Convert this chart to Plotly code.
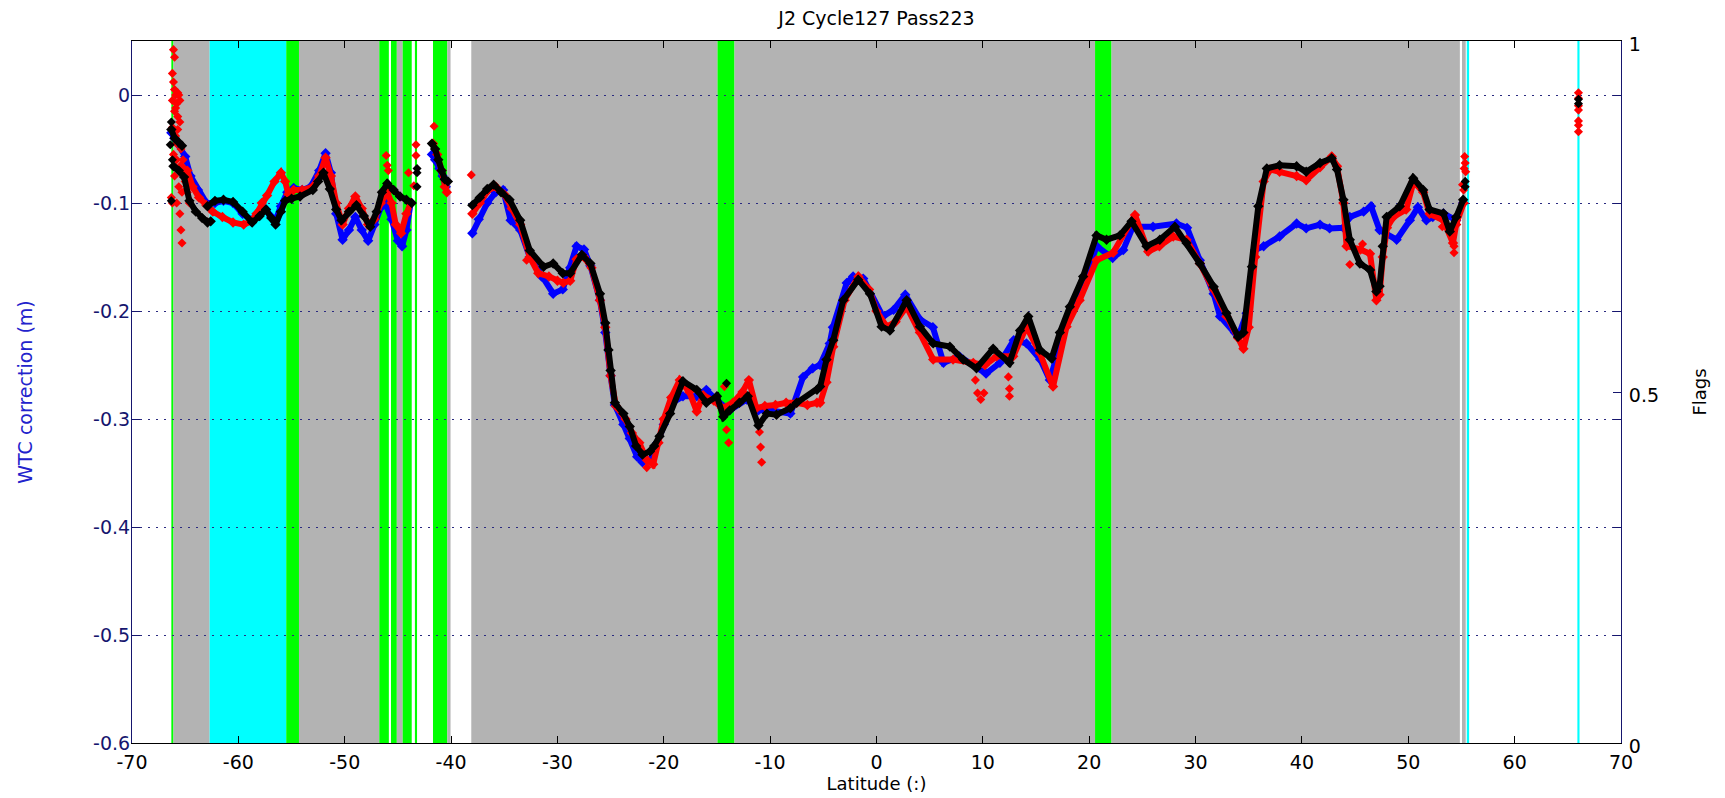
import plotly.graph_objects as go

# ---------------- data ----------------
chart_title = "J2 Cycle127 Pass223"
x_title = "Latitude (:)"
y_title = "WTC correction (m)"
flag_title = "Flags"

x_ticks = [-70, -60, -50, -40, -30, -20, -10, 0, 10, 20, 30, 40, 50, 60, 70]
x_ticklabels = ["-70", "-60", "-50", "-40", "-30", "-20", "-10", "0", "10", "20", "30", "40", "50", "60", "70"]
y_ticks = [-0.6, -0.5, -0.4, -0.3, -0.2, -0.1, 0]
y_ticklabels = ["-0.6", "-0.5", "-0.4", "-0.3", "-0.2", "-0.1", "0"]
flag_ticks = [0, 0.5, 1]
flag_ticklabels = ["0", "0.5", "1"]

# flag bands (latitude start / end, kind, flag value)
flag_start = [-66.3, -66.1, -62.7, -55.5, -54.3, -46.75, -45.65, -45.1, -44.55, -43.4, -41.7, -40.35,
              -38.1, -14.95, -13.35, 20.55, 22.1, 55.05, 55.5, 65.9]
flag_end = [-66.1, -62.7, -55.5, -54.3, -46.75, -45.85, -45.1, -44.55, -43.7, -43.2, -40.35, -40.05,
            -14.95, -13.35, 20.55, 22.1, 54.85, 55.4, 55.72, 66.1]
flag_kind = ["green", "gray", "cyan", "green", "gray", "green", "green", "gray", "green", "green", "green", "gray",
             "gray", "green", "gray", "green", "gray", "gray", "cyan", "cyan"]
flag_value = [1] * 20

# blue series
blue_lat = [-66.3, -66.0, -65.5, -65.0, -64.5, -63.8, -63.0, -62.2, -61.4, -60.5, -59.6, -58.7, -58.0, -57.4,
            -56.9, -56.5, -56.0, -55.4, -54.8, -54.0, -53.2, -52.4, -51.8, -51.3, -50.8, -50.2, -49.6, -49.0,
            -48.4, -47.8, -47.2, -46.6, -46.2, -45.6, -45.0, -44.6, -44.2, -43.8, None,
            -41.8, -41.5, -41.1, -40.8, -40.5, None,
            -38.0, -37.4, -36.6, -35.8, -35.1, -34.4, -33.5, -32.6, -31.5, -30.4, -29.5, -28.8, -28.2, -27.5,
            -26.9, -26.0, -25.5, -25.0, -24.6, -23.8, -23.2, -22.5, -22.0, -21.2, -20.6, -20.0, -19.2, -18.2,
            -16.9, -16.0, -15.0, -13.8, -12.2, -11.1, -10.0, -8.1, -6.9, -6.0, -5.3, -4.4, -4.1, -2.8, -2.2,
            -1.25, 0.6, 1.6, 2.7, 4.1, 5.3, 6.3, 7.8, 10.3, 11.6, 12.9, 14.1, 15.4, 16.3, 17.2, 18.5, 19.8,
            20.7, 22.2, 23.2, 24.1, 26.0, 28.2, 29.2, 30.4, 31.7, 32.3, 33.7, 34.0, 34.8, 35.6, 36.4, 37.9,
            39.5, 40.4, 41.7, 42.6, 43.9, 44.5, 45.8, 46.5, 47.3, 48.9, 50.15, 50.9, 51.7, 52.3, 53.3, 54.5,
            55.16]
blue_wtc = [-0.035, -0.04, -0.046, -0.057, -0.075, -0.088, -0.1, -0.1, -0.098, -0.1, -0.11, -0.116, -0.11, -0.106,
            -0.113, -0.116, -0.103, -0.09, -0.086, -0.088, -0.085, -0.07, -0.054, -0.072, -0.11, -0.134, -0.125,
            -0.113, -0.125, -0.135, -0.12, -0.104, -0.1, -0.115, -0.135, -0.14, -0.125, -0.1, None,
            -0.055, -0.06, -0.068, -0.075, -0.085, None,
            -0.128, -0.115, -0.1, -0.09, -0.088, -0.116, -0.125, -0.15, -0.168, -0.184, -0.18, -0.16, -0.14,
            -0.143, -0.158, -0.19, -0.22, -0.26, -0.287, -0.305, -0.318, -0.335, -0.34, -0.337, -0.322, -0.305,
            -0.285, -0.279, -0.279, -0.273, -0.283, -0.292, -0.282, -0.292, -0.292, -0.295, -0.261, -0.253,
            -0.25, -0.23, -0.215, -0.174, -0.168, -0.17, -0.205, -0.199, -0.185, -0.208, -0.215, -0.248, -0.242,
            -0.258, -0.248, -0.227, -0.23, -0.245, -0.264, -0.233, -0.193, -0.165, -0.14, -0.151, -0.1435,
            -0.122, -0.122, -0.119, -0.123, -0.153, -0.184, -0.205, -0.22, -0.224, -0.202, -0.1435, -0.14,
            -0.131, -0.119, -0.1235, -0.12, -0.1235, -0.123, -0.113, -0.108, -0.103, -0.125, -0.134, -0.116,
            -0.104, -0.116, -0.113, -0.1096, -0.116, -0.1]

# red series
red_lat = [-64.8, -64.3, -63.7, -63.0, -62.4, -61.5, -60.5, -59.5, -58.8, -58.3, -57.8, -57.3, -56.6, -56.0,
           -55.6, -55.3, -54.8, -54.0, -53.0, -52.4, -51.8, -51.3, -50.8, -50.2, -49.6, -49.0, -48.4, -47.8,
           -47.2, -46.6, -46.0, -45.6, -45.2, -44.7, -44.2, -43.8, None,
           -41.7, -41.3, -40.9, -40.6, -40.4, None,
           -38.0, -37.3, -36.5, -35.8, -35.0, -34.3, -33.5, -32.6, -31.8, -30.8, -30.0, -29.45, -28.8, -28.2,
           -27.5, -26.8, -26.0, -25.5, -25.0, -24.5, -23.6, -23.0, -22.3, -21.6, -21.0, -20.5, -20.0, -19.3,
           -18.5, -17.6, -16.9, -16.3, -15.3, -14.5, -13.5, -12.6, -12.0, -11.3, -10.5, -9.5, -8.5, -7.5,
           -6.5, -5.6, -5.3, -4.7, -4.07, -3.0, -1.7, -0.7, 0.0, 0.95, 1.8, 2.83, 4.08, 5.33, 7.2, 9.1, 10.2,
           11.3, 12.85, 14.1, 15.36, 16.6, 17.87, 19.1, 20.69, 22.25, 24.3, 25.55, 26.6, 27.9, 29.15, 30.4,
           31.7, 32.9, 34.0, 34.5, 35.0, 35.6, 36.4, 37.0, 37.9, 39.5, 40.4, 41.7, 42.8, 43.3, 43.9, 44.2,
           45.5, 46.4, 47.0, 47.3, 47.6, 48.0, 48.6, 49.8, 50.5, 51.4, 52.0, 53.3, 54.2, 54.5, 55.2]
red_wtc = [-0.07, -0.085, -0.095, -0.102, -0.108, -0.113, -0.118, -0.12, -0.117, -0.11, -0.1, -0.093, -0.08,
           -0.072, -0.08, -0.092, -0.088, -0.088, -0.085, -0.075, -0.058, -0.075, -0.1, -0.12, -0.105, -0.094,
           -0.105, -0.12, -0.115, -0.1, -0.09, -0.1, -0.12, -0.128, -0.11, -0.1, None,
           -0.045, -0.055, -0.07, -0.085, -0.09, None,
           -0.11, -0.1, -0.088, -0.085, -0.092, -0.105, -0.12, -0.15, -0.165, -0.168, -0.172, -0.174, -0.172,
           -0.152, -0.15, -0.16, -0.19, -0.215, -0.26, -0.288, -0.3, -0.313, -0.322, -0.338, -0.342, -0.322,
           -0.3, -0.28, -0.264, -0.275, -0.293, -0.278, -0.283, -0.29, -0.285, -0.275, -0.264, -0.29, -0.288,
           -0.287, -0.285, -0.285, -0.287, -0.285, -0.285, -0.266, -0.233, -0.19, -0.168, -0.18, -0.2, -0.2145,
           -0.21, -0.196, -0.22, -0.245, -0.245, -0.248, -0.25, -0.242, -0.242, -0.2145, -0.239, -0.27,
           -0.2145, -0.19, -0.153, -0.146, -0.111, -0.145, -0.14, -0.131, -0.134, -0.156, -0.18, -0.205,
           -0.225, -0.235, -0.215, -0.15, -0.08, -0.069, -0.071, -0.075, -0.079, -0.067, -0.057, -0.066, -0.1,
           -0.14, -0.143, -0.147, -0.19, -0.185, -0.15, -0.123, -0.113, -0.106, -0.08, -0.09, -0.11, -0.116,
           -0.137, -0.12, -0.1]

# black series
black_lat = [-66.3, -66.0, -65.6, -65.3, None,
             -66.1, -65.6, -65.1, -64.6, -64.0, -63.4, -62.9, -62.6, None,
             -62.9, -62.2, -61.4, -60.5, -59.6, -58.7, -58.0, -57.4, -56.9, -56.5, -56.0, -55.6, -55.0, -54.2,
             -53.0, -52.5, -52.0, -51.4, -50.8, -50.3, -49.6, -48.9, -48.2, -47.6, -47.0, -46.5, -46.0, -45.4,
             -44.8, -44.2, -43.7, None,
             -41.8, -41.5, -41.2, -40.9, -40.6, -40.3, None,
             -38.0, -37.3, -36.6, -36.0, -35.3, -34.5, -33.5, -32.6, -31.3, -30.4, -29.5, -28.8, -27.7, -26.9,
             -26.0, -25.5, -25.2, -25.0, -24.6, -23.8, -23.2, -22.6, -22.0, -21.3, -20.9, -20.4, -19.4, -18.2,
             -16.9, -16.0, -15.0, -14.4, -13.8, -12.9, -12.1, -11.1, -10.3, -9.4, -8.1, -7.5, -5.6, -5.3, -4.7,
             -4.07, -3.13, -1.72, -0.62, 0.48, 1.26, 2.83, 4.08, 5.33, 6.9, 8.15, 9.4, 10.97, 12.5, 13.5, 14.27,
             15.36, 16.46, 17.24, 18.18, 19.43, 20.69, 21.63, 22.88, 23.98, 25.39, 26.64, 28.05, 29.15, 30.4,
             31.7, 32.9, 34.0, 34.5, 35.3, 35.9, 36.7, 37.9, 39.5, 40.4, 41.7, 42.8, 43.3, 43.9, 44.5, 45.45,
             46.4, 47.0, 47.3, 47.6, 47.96, 49.2, 50.46, 51.4, 52.0, 53.3, 53.9, 54.5, 55.16]
black_wtc = [-0.032, -0.04, -0.044, -0.047, None,
             -0.066, -0.07, -0.076, -0.098, -0.108, -0.114, -0.118, -0.117, None,
             -0.103, -0.098, -0.097, -0.099, -0.108, -0.118, -0.112, -0.106, -0.114, -0.12, -0.108, -0.098,
             -0.096, -0.094, -0.088, -0.08, -0.072, -0.087, -0.106, -0.116, -0.108, -0.102, -0.112, -0.122,
             -0.108, -0.09, -0.082, -0.088, -0.094, -0.097, -0.1, None,
             -0.045, -0.05, -0.06, -0.07, -0.078, -0.08, None,
             -0.102, -0.095, -0.087, -0.083, -0.09, -0.097, -0.116, -0.144, -0.159, -0.156, -0.165, -0.165,
             -0.148, -0.156, -0.184, -0.211, -0.236, -0.255, -0.285, -0.295, -0.307, -0.325, -0.333, -0.33,
             -0.325, -0.316, -0.295, -0.265, -0.273, -0.285, -0.279, -0.298, -0.292, -0.285, -0.279, -0.306,
             -0.295, -0.296, -0.29, -0.285, -0.273, -0.27, -0.245, -0.227, -0.19, -0.171, -0.184, -0.2145,
             -0.218, -0.19, -0.2145, -0.23, -0.233, -0.245, -0.253, -0.235, -0.248, -0.218, -0.205, -0.236,
             -0.244, -0.22, -0.196, -0.168, -0.13, -0.134, -0.13, -0.117, -0.14, -0.134, -0.122, -0.137,
             -0.156, -0.1775, -0.202, -0.224, -0.22, -0.159, -0.103, -0.068, -0.065, -0.066, -0.071, -0.063,
             -0.0586, -0.069, -0.097, -0.134, -0.156, -0.162, -0.182, -0.177, -0.14, -0.113, -0.103, -0.077,
             -0.088, -0.106, -0.1096, -0.1265, -0.113, -0.097]

# isolated points
red_out_lat = [-66.1, -66.0, -66.2, -66.1, -66.0, -65.9, -65.7, -66.2, -65.8, -65.6, -65.5, -66.0, -65.7, -65.5,
               -66.2, -65.9, -65.6, -66.1, -65.8, -65.4, -65.2, -64.9, -64.7, -66.0, -65.6, -65.3, -66.3, -66.2,
               -65.8, -65.5, -65.4, -65.3, -64.8, -64.6, -65.9, -65.7, -65.4, -65.1, -65.0, -64.9, -65.8,
               -43.3, -43.3, -43.5, -46.1, -46.0, -45.9, -44.0, -41.6, -38.1, -32.9, -21.6, -14.1, -13.9, -14.3,
               -11.0, -10.9, -10.8, 9.3, 9.5, 9.8, 10.1, 12.4, 12.5, 12.5, 44.5, 45.7, 53.2, 54.3, 54.3, 55.3,
               55.35, 55.25, 55.4, 55.1, 55.2, 66.0, 66.0, 66.0, 66.0, 66.0, 66.0, 66.0]
red_out_wtc = [0.042, 0.035, 0.02, 0.012, 0.005, 0.0, 0.002, -0.005, -0.008, 0.0, -0.005, -0.015, -0.02, -0.025,
               -0.03, -0.038, -0.045, -0.055, -0.06, -0.065, -0.06, -0.07, -0.08, -0.075, -0.085, -0.09, -0.095,
               -0.1, -0.1, -0.11, -0.125, -0.137, -0.09, -0.1, -0.012, -0.032, -0.05, -0.068, -0.08, -0.088,
               -0.045,
               -0.046, -0.056, -0.084, -0.056, -0.065, -0.07, -0.072, -0.029, -0.074, -0.153, -0.345, -0.31,
               -0.322, -0.27, -0.312, -0.326, -0.34, -0.264, -0.276, -0.282, -0.276, -0.261, -0.272, -0.279,
               -0.157, -0.138, -0.122, -0.14, -0.146, -0.057, -0.063, -0.068, -0.071, -0.083, -0.088, 0.002,
               -0.003, -0.01, -0.014, -0.024, -0.028, -0.034]
black_out_lat = [-66.3, -66.4, -66.2, -66.3, -43.2, -43.2, -43.2, -14.1, 55.35, 55.35, 66.0, 66.0]
black_out_wtc = [-0.025, -0.046, -0.06, -0.098, -0.068, -0.072, -0.085, -0.267, -0.08, -0.085, -0.004, -0.008]

# ---------------- styles ----------------
FONT = "DejaVu Sans"
NAVY = "#16166e"
FLAG_COLORS = {"gray": "#b3b3b3", "cyan": "#00ffff", "green": "#00ff00"}
# the page body keeps its default 8px margin, so the figure is 8px smaller
FIG_W, FIG_H = 1717, 790

fig = go.Figure()

for s, e, k, v in zip(flag_start, flag_end, flag_kind, flag_value):
    fig.add_shape(type="rect", xref="x", yref="y", x0=s, x1=e, y0=0, y1=v,
                  fillcolor=FLAG_COLORS[k], line_width=0, layer="below")

# keep flags axis alive
fig.add_trace(go.Scatter(x=[], y=[], yaxis="y", showlegend=False, hoverinfo="skip"))


def add_series(lat, wtc, color):
    fig.add_trace(go.Scatter(x=lat, y=wtc, yaxis="y2", mode="lines+markers",
                             line=dict(color=color, width=6),
                             marker=dict(symbol="diamond", size=8, color=color),
                             connectgaps=False, showlegend=False))


add_series(blue_lat, blue_wtc, "#0000ff")
add_series(red_lat, red_wtc, "#ff0000")
fig.add_trace(go.Scatter(x=red_out_lat, y=red_out_wtc, yaxis="y2", mode="markers",
                         marker=dict(symbol="diamond", size=7, color="#ff0000"), showlegend=False))
add_series(black_lat, black_wtc, "#000000")
fig.add_trace(go.Scatter(x=black_out_lat, y=black_out_wtc, yaxis="y2", mode="markers",
                         marker=dict(symbol="diamond", size=7, color="#000000"), showlegend=False))

fig.update_layout(
    width=FIG_W, height=FIG_H,
    margin=dict(l=124, r=104, t=33, b=55, autoexpand=False),
    paper_bgcolor="white", plot_bgcolor="white",
    showlegend=False,
    font=dict(family=FONT, size=18, color="black"),
    title=dict(text=chart_title, x=0.5, xref="paper", y=1 - 10 / FIG_H, yref="container",
               yanchor="middle", font=dict(family=FONT, size=19, color="black")),
    xaxis=dict(range=[-70, 70], tickvals=x_ticks, ticktext=x_ticklabels, ticks="inside", ticklen=7,
               tickcolor="black", showline=True, linecolor="black", linewidth=1, mirror="ticks",
               showgrid=False, zeroline=False, tickfont=dict(family=FONT, size=19, color="black"),
               ticklabelstandoff=2,
               title=dict(text=x_title, standoff=4, font=dict(family=FONT, size=18, color="black")),
               automargin=False),
    yaxis=dict(side="right", range=[0, 1], tickvals=flag_ticks, ticktext=flag_ticklabels, ticks="inside",
               ticklen=8, tickcolor=NAVY, showline=True, linecolor=NAVY, linewidth=1, showgrid=False,
               zeroline=False, tickfont=dict(family=FONT, size=19, color="black"), ticklabelshift=3,
               ticklabelstandoff=3,
               title=dict(text=flag_title, standoff=35, font=dict(family=FONT, size=18, color="black")),
               automargin=False),
    yaxis2=dict(overlaying="y", side="left", range=[-0.6, 0.05], tickvals=y_ticks, ticktext=y_ticklabels,
                ticks="inside", ticklen=8, tickcolor=NAVY, showline=True, linecolor=NAVY, linewidth=1,
                mirror="ticks", showgrid=True, griddash="2px,6px", gridcolor="#2a2a80", gridwidth=1,
                zeroline=False, tickfont=dict(family=FONT, size=19, color=NAVY), ticklabelstandoff=-3,
                title=dict(text=y_title, standoff=55, font=dict(family=FONT, size=19, color="#2222cc")),
                automargin=False),
)

fig.write_html("out.html")
